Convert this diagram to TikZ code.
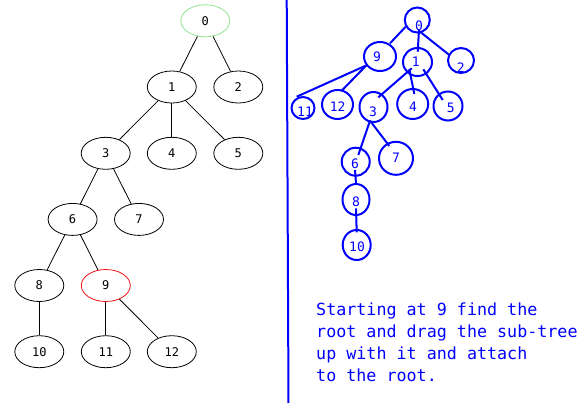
\documentclass[tikz,border=0pt]{standalone}
\usepackage{fontspec}
\setmonofont{DejaVu Sans Mono}
\usetikzlibrary{shapes.geometric}
\definecolor{inkblue}{RGB}{0,0,255}
\definecolor{rootgreen}{RGB}{144,230,144}
\definecolor{markred}{RGB}{240,20,20}
\begin{document}
\begin{tikzpicture}[x=1pt,y=-1pt,
  tnode/.style={draw=black, line width=0.8pt, ellipse, minimum width=49pt, minimum height=32pt, inner sep=0pt, font=\ttfamily\fontsize{12}{12}\selectfont},
  tedge/.style={draw=black, line width=0.8pt},
  hcirc/.style={draw=inkblue, line width=2pt, ellipse, inner sep=0pt},
  hlabel/.style={text=inkblue, font=\ttfamily\fontsize{13}{13}\selectfont, inner sep=0pt},
  hedge/.style={draw=inkblue, line width=2pt},
  note/.style={text=inkblue, font=\ttfamily\fontsize{16.7}{22}\selectfont, inner sep=0pt, align=left}]
\useasboundingbox[fill=white] (0,0) rectangle (583,402);

% ---- left tree ----
\node[tnode, draw=rootgreen] (n0) at (205.3,20.8) {0};
\node[tnode] (n1) at (171.8,87) {1};
\node[tnode] (n2) at (238.3,87) {2};
\node[tnode] (n3) at (105.7,153.3) {3};
\node[tnode] (n4) at (171.8,153.3) {4};
\node[tnode] (n5) at (238.3,153.3) {5};
\node[tnode] (n6) at (72.6,219.4) {6};
\node[tnode] (n7) at (139,219.4) {7};
\node[tnode] (n8) at (39.3,285.5) {8};
\node[tnode, draw=markred] (n9) at (105.8,285.5) {9};
\node[tnode] (n10) at (39.3,351.7) {10};
\node[tnode] (n11) at (105.8,351.7) {11};
\node[tnode] (n12) at (171.8,351.7) {12};
\draw[tedge] (n0) -- (n1);
\draw[tedge] (n0) -- (n2);
\draw[tedge] (n1) -- (n3);
\draw[tedge] (n1) -- (n4);
\draw[tedge] (n1) -- (n5);
\draw[tedge] (n3) -- (n6);
\draw[tedge] (n3) -- (n7);
\draw[tedge] (n6) -- (n8);
\draw[tedge] (n6) -- (n9);
\draw[tedge] (n8) -- (n10);
\draw[tedge] (n9) -- (n11);
\draw[tedge] (n9) -- (n12);

% ---- divider ----
\coordinate (dtop) at (286.7,-2);
\coordinate (dbot) at (288.5,404);
\draw[inkblue, line width=2pt] (dtop) -- (dbot);

% ---- right (hand drawn) tree ----
\node[hcirc, minimum width=25pt, minimum height=25pt] (c0) at (417.3,20) {};
\node[hcirc, minimum width=32pt, minimum height=29pt] (c9) at (380,56.5) {};
\node[hcirc, minimum width=29pt, minimum height=28pt] (c1) at (417.5,62) {};
\node[hcirc, minimum width=26pt, minimum height=25pt] (c2) at (461,60.5) {};
\node[hcirc, minimum width=23pt, minimum height=22pt] (c11) at (303,108) {};
\node[hcirc, minimum width=31pt, minimum height=29pt] (c12) at (337.5,104.5) {};
\node[hcirc, minimum width=28pt, minimum height=30pt] (c3) at (373.5,107) {};
\node[hcirc, minimum width=31pt, minimum height=30pt] (c4) at (412.7,104) {};
\node[hcirc, minimum width=29pt, minimum height=29pt] (c5) at (448,106) {};
\node[hcirc, minimum width=28pt, minimum height=28pt] (c6) at (355.7,161.7) {};
\node[hcirc, minimum width=34pt, minimum height=33pt] (c7) at (396,158.3) {};
\node[hcirc, minimum width=27pt, minimum height=31pt] (c8) at (356,199.5) {};
\node[hcirc, minimum width=28pt, minimum height=30pt] (c10) at (356.7,245) {};

\node[hlabel] (l0) at (419,26) {0};
\node[hlabel] (l9) at (377,57) {9};
\node[hlabel] (l1) at (415.7,62) {1};
\node[hlabel] (l2) at (460.7,68) {2};
\node[hlabel] (l11) at (305,112) {11};
\node[hlabel] (l12) at (337.7,107) {12};
\node[hlabel] (l3) at (373,111.7) {3};
\node[hlabel] (l4) at (413,106.7) {4};
\node[hlabel] (l5) at (450.7,108) {5};
\node[hlabel] (l6) at (355,164) {6};
\node[hlabel] (l7) at (396,158) {7};
\node[hlabel] (l8) at (356,202) {8};
\node[hlabel] (l10) at (357,246.7) {10};

% edge end points
\coordinate (e09a) at (405.7,26.7);  \coordinate (e09b) at (390,43.3);
\coordinate (e01a) at (419,30);      \coordinate (e01b) at (417.7,51.7);
\coordinate (e02a) at (420,31.7);    \coordinate (e02b) at (449.3,55);
\coordinate (e911a) at (365,66);     \coordinate (e911b) at (296.7,96.7);
\coordinate (e912a) at (366.7,65);   \coordinate (e912b) at (341.7,90.7);
\coordinate (e13a) at (411.7,68.3);  \coordinate (e13b) at (378.3,97.3);
\coordinate (e14a) at (409.3,69.3);  \coordinate (e14b) at (414.3,94);
\coordinate (e15a) at (423.3,69.3);  \coordinate (e15b) at (442.7,100);
\coordinate (e36a) at (370,120.7);   \coordinate (e36b) at (358.3,155);
\coordinate (e37a) at (370,120.7);   \coordinate (e37b) at (389.3,146);
\coordinate (e68a) at (355,170);     \coordinate (e68b) at (356,183.3);
\coordinate (e810a) at (356,208.3);  \coordinate (e810b) at (356.7,232.3);
\draw[hedge] (e09a) -- (e09b);
\draw[hedge] (e01a) -- (e01b);
\draw[hedge] (e02a) -- (e02b);
\draw[hedge] (e911a) -- (e911b);
\draw[hedge] (e912a) -- (e912b);
\draw[hedge] (e13a) -- (e13b);
\draw[hedge] (e14a) -- (e14b);
\draw[hedge] (e15a) -- (e15b);
\draw[hedge] (e36a) -- (e36b);
\draw[hedge] (e37a) -- (e37b);
\draw[hedge] (e68a) -- (e68b);
\draw[hedge] (e810a) -- (e810b);

% ---- note ----
\node[note, anchor=base west] (txt) at (316,381) {Starting at 9 find the\\root and drag the sub-tree\\up with it and attach\\to the root.};
\end{tikzpicture}
\end{document}
